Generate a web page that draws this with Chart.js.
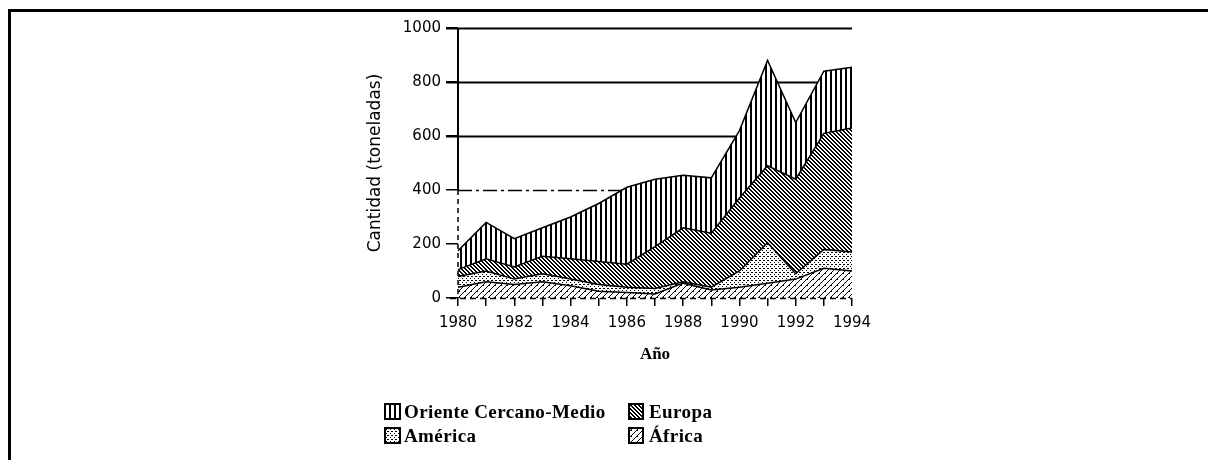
<!DOCTYPE html>
<html>
<head>
<meta charset="utf-8">
<script src="https://cdn.jsdelivr.net/npm/chart.js@4/dist/chart.umd.min.js"></script>
<style>
  body { margin: 0; background: #fff; }
  #wrap { position: relative; width: 1208px; height: 460px; overflow: hidden; }
  #frame { position: absolute; left: 8px; top: 9px; width: 1210px; height: 460px;
           border-top: 3px solid #000; border-left: 3px solid #000; box-sizing: border-box; }
  canvas#chart { position: absolute; left: 0; top: 0; }
  .leg { position: absolute; font-family: "Liberation Serif", serif; font-weight: bold;
         font-size: 19px; letter-spacing: 0.4px; color: #000; line-height: 19px; white-space: nowrap; }
  .leg canvas { position: absolute; left: 0; top: 1px; }
  .leg span { position: absolute; top: 0; }
</style>
</head>
<body>
<div id="wrap">
  <div id="frame"></div>
  <canvas id="chart" width="1208" height="460"></canvas>
  <div class="leg" style="left:384px; top:402px;"><canvas id="sw0" width="17" height="17"></canvas><span style="left:20px">Oriente Cercano-Medio</span></div>
  <div class="leg" style="left:628px; top:402px;"><canvas id="sw1" width="16" height="17"></canvas><span style="left:21px">Europa</span></div>
  <div class="leg" style="left:384px; top:426px;"><canvas id="sw2" width="17" height="17"></canvas><span style="left:20px">América</span></div>
  <div class="leg" style="left:628px; top:426px;"><canvas id="sw3" width="16" height="17"></canvas><span style="left:21px">África</span></div>
</div>
<script>
"use strict";

// años del eje x
var years = ["1980", "1981", "1982", "1983", "1984", "1985", "1986", "1987",
             "1988", "1989", "1990", "1991", "1992", "1993", "1994"];

// toneladas por región (apiladas, de abajo hacia arriba)
var africa  = [40, 60, 50, 60, 45, 25, 20, 15, 55, 30, 40, 55, 70, 110, 100];
var america = [40, 40, 20, 30, 25, 25, 20, 20, 5, 10, 60, 150, 20, 70, 70];
var europa  = [25, 45, 45, 65, 75, 85, 85, 155, 200, 200, 270, 285, 350, 430, 460];
var oriente = [70, 135, 105, 105, 155, 215, 285, 250, 195, 205, 250, 390, 210, 230, 225];

var yTicks = [0, 200, 400, 600, 800, 1000];

// pattern helpers (scan look: black on white)
function makeTile(w, h, draw) {
    var c = document.createElement("canvas");
    c.width = w; c.height = h;
    var g = c.getContext("2d");
    g.fillStyle = "#fff";
    g.fillRect(0, 0, w, h);
    g.fillStyle = "#000";
    draw(g);
    return c;
}

var tileOriente = makeTile(5, 5, function (g) {
    g.fillRect(0, 0, 2, 5);
});
var tileEuropa = makeTile(4, 4, function (g) {
    for (var i = 0; i < 4; i++) {
        g.fillRect(i, i, 1, 1);
        g.fillRect((i + 1) % 4, i, 1, 1);
    }
});
var tileAmerica = makeTile(4, 4, function (g) {
    g.fillRect(0, 0, 1, 1);
    g.fillRect(2, 2, 1, 1);
    g.fillRect(3, 0, 1, 1);
});
var tileAfrica = makeTile(6, 6, function (g) {
    for (var i = 0; i < 6; i++) {
        g.fillRect(5 - i, i, 1, 1);
    }
    g.fillRect(3, 3, 1, 1);
});

var ctx = document.getElementById("chart").getContext("2d");
var patOriente = ctx.createPattern(tileOriente, "repeat");
var patEuropa = ctx.createPattern(tileEuropa, "repeat");
var patAmerica = ctx.createPattern(tileAmerica, "repeat");
var patAfrica = ctx.createPattern(tileAfrica, "repeat");

// legend swatches
function swatch(id, tile) {
    var c = document.getElementById(id);
    var g = c.getContext("2d");
    g.fillStyle = g.createPattern(tile, "repeat");
    g.fillRect(0, 0, c.width, c.height);
    g.strokeStyle = "#000";
    g.lineWidth = 2;
    g.strokeRect(1, 1, c.width - 2, c.height - 2);
}
swatch("sw0", tileOriente);
swatch("sw1", tileEuropa);
swatch("sw2", tileAmerica);
swatch("sw3", tileAfrica);

// custom grid lines + axis lines like the scanned original
var gridPlugin = {
    id: "scanGrid",
    beforeDatasetsDraw: function (chart) {
        var g = chart.ctx, area = chart.chartArea, y = chart.scales.y;
        g.save();
        g.strokeStyle = "#000";
        [600, 800, 1000].forEach(function (v) {
            var py = Math.round(y.getPixelForValue(v)) + 0.5;
            g.lineWidth = 2;
            g.beginPath();
            g.moveTo(area.left - 12, py);
            g.lineTo(area.right, py);
            g.stroke();
        });
        var p4 = Math.round(y.getPixelForValue(400)) + 0.5;
        g.lineWidth = 1.5;
        g.setLineDash([14, 4, 3, 4]);
        g.beginPath();
        g.moveTo(area.left, p4);
        g.lineTo(area.right, p4);
        g.stroke();
        g.restore();
    },
    afterDatasetsDraw: function (chart) {
        var g = chart.ctx, area = chart.chartArea, y = chart.scales.y;
        g.save();
        g.strokeStyle = "#000";
        // y axis: solid at top, broken lower
        var p4 = y.getPixelForValue(400);
        g.lineWidth = 2;
        g.beginPath();
        g.moveTo(area.left, area.top);
        g.lineTo(area.left, p4);
        g.stroke();
        g.lineWidth = 1.5;
        g.setLineDash([5, 4]);
        g.beginPath();
        g.moveTo(area.left, p4);
        g.lineTo(area.left, area.bottom);
        g.stroke();
        // zero line dashed
        g.setLineDash([6, 4]);
        g.beginPath();
        g.moveTo(area.left - 8, area.bottom + 0.5);
        g.lineTo(area.right, area.bottom + 0.5);
        g.stroke();
        g.restore();
    }
};

function areaSet(label, data, pat, fill) {
    return {
        label: label,
        data: data,
        backgroundColor: pat,
        borderColor: "#000",
        borderWidth: 1.5,
        pointRadius: 0,
        tension: 0,
        fill: fill
    };
}

new Chart(ctx, {
    type: "line",
    data: {
        labels: years,
        datasets: [
            areaSet("África", africa, patAfrica, "origin"),
            areaSet("América", america, patAmerica, "-1"),
            areaSet("Europa", europa, patEuropa, "-1"),
            areaSet("Oriente Cercano-Medio", oriente, patOriente, "-1")
        ]
    },
    options: {
        responsive: false,
        animation: false,
        devicePixelRatio: 1,
        layout: { padding: { left: 361, top: 28, right: 356, bottom: 92 } },
        plugins: {
            legend: { display: false },
            tooltip: { enabled: false }
        },
        scales: {
            x: {
                grid: { drawOnChartArea: false, drawTicks: true, tickLength: 8, color: "#000", lineWidth: 1.5 },
                border: { display: false },
                ticks: {
                    autoSkip: false,
                    maxRotation: 0,
                    padding: 8,
                    color: "#000",
                    font: { family: "DejaVu Sans", size: 15 },
                    callback: function (v, i) { return i % 2 === 0 ? years[i] : ""; }
                },
                title: {
                    display: true,
                    text: "Año",
                    color: "#000",
                    font: { family: "Liberation Serif", size: 17, weight: "bold" },
                    padding: { top: 0, bottom: 3 }
                },
                afterFit: function (s) { s.height = 70; }
            },
            y: {
                stacked: true,
                min: 0,
                max: 1000,
                afterBuildTicks: function (s) {
                    s.ticks = yTicks.map(function (v) { return { value: v }; });
                },
                grid: { drawOnChartArea: false, drawTicks: true, tickLength: 12, color: "#000", lineWidth: 1.5 },
                border: { display: false },
                ticks: {
                    padding: 5,
                    color: "#000",
                    font: { family: "DejaVu Sans", size: 15 },
                    callback: function (v) { return String(v); }
                },
                title: {
                    display: true,
                    text: "Cantidad (toneladas)",
                    color: "#000",
                    font: { family: "DejaVu Sans", size: 17 },
                    padding: { top: 4, bottom: 0 }
                },
                afterFit: function (s) { s.width = 97; }
            }
        }
    },
    plugins: [gridPlugin]
});
</script>
</body>
</html>
